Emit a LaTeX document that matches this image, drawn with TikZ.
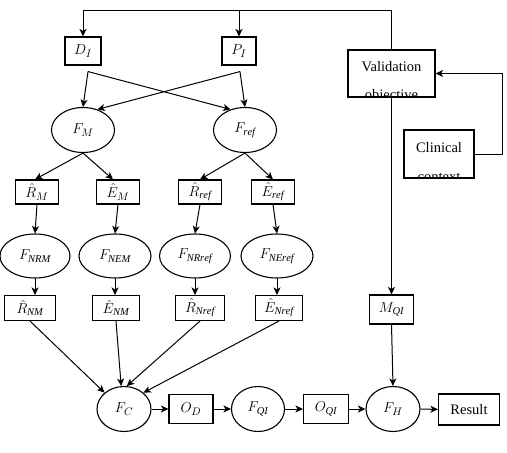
\documentclass[tikz,border=0pt]{standalone}
\usepackage{amsmath}
\usepackage{fontspec}
\setmainfont{Liberation Serif}
\usetikzlibrary{shapes.geometric}
\usetikzlibrary{arrows.meta}

\begin{document}
\begin{tikzpicture}[x=1pt, y=-1pt,
    box/.style = {draw, line width=1.1pt, inner sep=0pt, minimum height=25pt},
    oval/.style = {ellipse, draw, line width=1.1pt, inner sep=0pt, minimum width=63pt, minimum height=45pt},
    arr/.style = {-{Stealth[length=7.5pt, width=7pt, inset=2pt]}, line width=1pt},
    txt/.style = {font=\fontsize{14.5}{17}\selectfont, inner sep=0pt},
    font=\fontsize{15}{17}\selectfont]
    \useasboundingbox (0, 0) rectangle (507, 453);

    \node[box, minimum width=36pt, minimum height=28pt] (dI) at (83, 51) {$D_I$};
    \node[box, minimum width=34pt, minimum height=28pt] (pI) at (239, 51) {$P_I$};
    \node[box, minimum width=87pt, minimum height=47pt] (valid) at (391.5, 73.5) {};
    \node[box, minimum width=70pt, minimum height=48pt] (clin) at (439, 154) {};
    \begin{scope}
        \clip (valid.south west) rectangle (valid.north east);
        \node[txt, anchor=base] (validA) at (391.5, 71) {Validation};
        \node[txt, anchor=base] (validB) at (391.5, 99) {objective};
    \end{scope}
    \begin{scope}
        \clip (clin.south west) rectangle (clin.north east);
        \node[txt, anchor=base] (clinA) at (439, 152) {Clinical};
        \node[txt, anchor=base] (clinB) at (439, 181) {context};
    \end{scope}

    \node[oval] (fM) at (83, 130) {$F_M$};
    \node[oval] (fref) at (245, 130) {$F_{\mathit{ref}}$};

    \node[box, minimum width=43pt, minimum height=24pt] (rM) at (37, 192) {$\hat{R}_M$};
    \node[box, minimum width=43pt, minimum height=24pt] (eM) at (118, 192) {$\hat{E}_M$};
    \node[box, minimum width=43pt, minimum height=24pt] (rref) at (200, 192) {$\hat{R}_{\mathit{ref}}$};
    \node[box, minimum width=43pt, minimum height=24pt] (eref) at (273, 192) {$\hat{E}_{\mathit{ref}}$};

    \node[oval, minimum width=70pt, minimum height=44pt] (fNRM) at (35, 256) {$F_{\mathit{NRM}}$};
    \node[oval, minimum width=72pt, minimum height=44pt] (fNEM) at (115, 256) {$F_{\mathit{NEM}}$};
    \node[oval, minimum width=71pt, minimum height=44pt] (fNRref) at (195, 256) {$F_{\mathit{NRref}}$};
    \node[oval, minimum width=72pt, minimum height=44pt] (fNEref) at (277, 256) {$F_{\mathit{NEref}}$};

    \node[box, minimum width=51pt] (rNM) at (30, 308) {$\hat{R}_{\mathit{NM}}$};
    \node[box, minimum width=47pt] (eNM) at (116, 308) {$\hat{E}_{\mathit{NM}}$};
    \node[box, minimum width=49pt] (rNref) at (200, 308) {$\hat{R}_{\mathit{Nref}}$};
    \node[box, minimum width=47pt] (eNref) at (279, 308) {$\hat{E}_{\mathit{Nref}}$};
    \node[box, minimum width=44pt, minimum height=29pt] (mQI) at (391.5, 309.5) {$M_{\mathit{QI}}$};

    \node[oval, minimum width=54pt] (fC) at (124, 409) {$F_C$};
    \node[box, minimum width=44pt, minimum height=29pt] (oD) at (191, 409) {$O_D$};
    \node[oval, minimum width=53pt] (fQI) at (258, 409) {$F_{\mathit{QI}}$};
    \node[box, minimum width=45pt, minimum height=29pt] (oQI) at (326, 409) {$O_{\mathit{QI}}$};
    \node[oval, minimum width=54pt] (fH) at (393, 409) {$F_H$};
    \node[box, txt, minimum width=61pt, minimum height=31pt] (res) at (469, 409.5) {Result};

    \draw[arr] (valid.north) -- (valid.north |- 0, 10) -| (dI.north);
    \draw[arr] (pI.north |- 0, 10) -- (pI.north);
    \draw[arr] (clin.east) -- ++(28, 0) |- (valid.east);
    \draw[arr] (valid.south) -- (mQI.north);
    \draw[arr] (mQI.south) -- (fH.north);

    \draw[arr] ([xshift=5pt, yshift=-6pt]dI.south) -- (fM.north);
    \draw[arr] ([xshift=5pt, yshift=-6pt]dI.south) -- (fref.125);
    \draw[arr] ([xshift=1pt, yshift=-6pt]pI.south) -- (fref.north);
    \draw[arr] ([xshift=1pt, yshift=-6pt]pI.south) -- (fM.55);

    \draw[arr] (fM.south) -- ([xshift=-2pt]rM.north);
    \draw[arr] (fM.south) -- ([xshift=-5pt]eM.north);
    \draw[arr] (fref.south) -- (rref.north);
    \draw[arr] (fref.south) -- (eref.north);

    \draw[arr] (rM.south) -- (fNRM.north);
    \draw[arr] (eM.south) -- (fNEM.north);
    \draw[arr] (rref.south) -- (fNRref.north);
    \draw[arr] (eref.south) -- (fNEref.north);

    \draw[arr] (fNRM.south) -- (fNRM.south |- rNM.north);
    \draw[arr] (fNEM.south) -- (fNEM.south |- eNM.north);
    \draw[arr] (fNRref.south) -- (fNRref.south |- rNref.north);
    \draw[arr] (fNEref.south) -- (fNEref.south |- eNref.north);

    \draw[arr] (rNM.south) -- (fC.140);
    \draw[arr] (eNM.south) -- (fC.97);
    \draw[arr] (rNref.south) -- (fC.83);
    \draw[arr] (eNref.south) -- (fC.40);

    \draw[arr] (fC) -- (oD);
    \draw[arr] (oD) -- (fQI);
    \draw[arr] (fQI) -- (oQI);
    \draw[arr] (oQI) -- (fH);
    \draw[arr] (fH) -- (res);
\end{tikzpicture}
\end{document}
